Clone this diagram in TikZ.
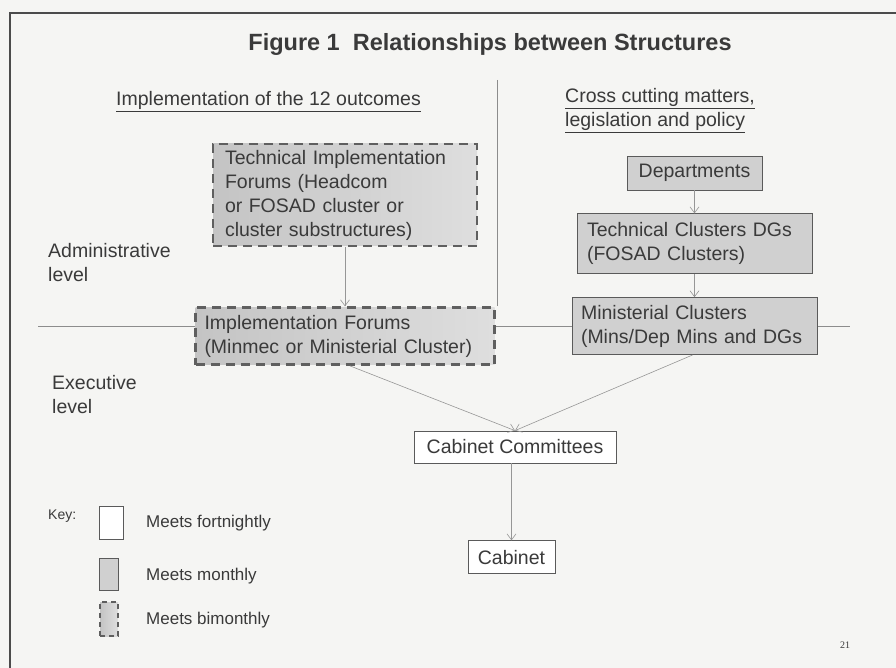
\documentclass[tikz,border=0pt]{standalone}
\usepackage{fontspec}
\setmainfont{Liberation Sans}
\newfontfamily\numfont{Liberation Serif}
\usepackage{tikz}
\usetikzlibrary{arrows.meta,positioning}
\definecolor{scanbg}{RGB}{245,245,243}
\definecolor{inkgray}{RGB}{58,58,58}
\definecolor{edgegray}{RGB}{90,90,90}
\definecolor{dashgray}{RGB}{95,95,95}
\definecolor{boxgray}{RGB}{208,208,208}
\definecolor{shadeD}{RGB}{196,196,196}
\definecolor{shadeL}{RGB}{222,222,222}
\definecolor{linkgray}{RGB}{150,150,150}
\definecolor{rulegray}{RGB}{140,140,140}
\definecolor{framegray}{RGB}{75,75,75}
\newcommand{\boxfont}{\fontsize{19.5}{24}\selectfont}
\newcommand{\keyfont}{\fontsize{17}{20}\selectfont}
\newcommand{\titlefont}{\fontsize{23.5}{27}\selectfont\bfseries}
\tikzset{
  boxbase/.style={
    rectangle, draw=edgegray, line width=0.8pt, text=inkgray,
    font=\boxfont, inner ysep=0pt
  },
  fortnightly/.style={
    boxbase, fill=white
  },
  monthly/.style={
    boxbase, fill=boxgray
  },
  bimonthly/.style={
    boxbase, left color=shadeD, right color=shadeL, draw=dashgray,
    line width=2.6pt, dash pattern=on 9pt off 6pt
  },
  link/.style={-{Straight Barb[length=6pt,width=9pt]}, line width=0.6pt, draw=linkgray},
  divider/.style={line width=0.7pt, draw=rulegray},
  frame/.style={line width=2pt, draw=framegray},
  lbl/.style={anchor=north west, align=left, inner sep=0pt, text=inkgray, font=\boxfont}
}

\begin{document}
\begin{tikzpicture}[x=1pt, y=-1pt, node distance=23pt]
  \fill[scanbg] (0,0) rectangle (896,668);
  \useasboundingbox (0,0) rectangle (896,668);

  \coordinate (fr) at (896,13);
  \coordinate (fb) at (10,668);
  \draw[frame] (fr) -| (fb);

  \coordinate (vtop) at (497,80);
  \coordinate (hl) at (38,326);
  \coordinate (hr) at (850,326);
  \draw[divider] (hl) -- (hr);

  \node[anchor=center, text=inkgray, font=\titlefont] (title) at (490,44)
    {Figure 1\ \ Relationships between Structures};

  \node[lbl] (hdl) at (116,91) {\underline{Implementation of the 12 outcomes}};
  \node[lbl] (hdr) at (565,88)
    {\underline{Cross cutting matters,}\\\underline{legislation and policy}};

  \node[lbl] (adm) at (48,243) {Administrative\\level};
  \node[lbl] (exe) at (52,375) {Executive\\level};

  \node[bimonthly, align=left, text width=240pt, inner xsep=12pt, minimum height=102pt]
    (tif) at (345,195)
    {Technical Implementation\\Forums (Headcom\\or FOSAD cluster or\\cluster substructures)};
  \node[bimonthly, align=left, text width=281pt, inner xsep=9pt, minimum height=57pt,
        below=59pt of tif]
    (impl) {Implementation Forums\\(Minmec or Ministerial Cluster)};
  \draw[divider] (vtop) -- (vtop |- impl.north);

  \node[monthly, minimum width=135pt, minimum height=34pt] (dept) at (694.5,173) {Departments};
  \node[monthly, align=left, text width=215pt, inner xsep=10pt, minimum height=60pt,
        below=of dept]
    (tcd) {Technical Clusters DGs\\(FOSAD Clusters)};
  \node[monthly, align=left, text width=227pt, inner xsep=9pt, minimum height=57pt,
        below=of tcd]
    (minc) {Ministerial Clusters\\(Mins/Dep Mins and DGs};

  \node[fortnightly, minimum width=202pt, minimum height=32pt] (cc) at (515,447)
    {Cabinet Committees};
  \node[fortnightly, minimum width=87pt, minimum height=33pt, below=77pt of cc, xshift=-3.5pt]
    (cab) {Cabinet};

  \draw[link] (tif) -- (impl);
  \draw[link] (dept) -- (tcd);
  \draw[link] (tcd) -- (minc);
  \draw[link] ([xshift=5pt]impl.south) -- (cc.north);
  \draw[link] ([xshift=-2pt]minc.south) -- (cc.north);
  \draw[link] (cc.south -| cab.north) -- (cab.north);

  \node[lbl, font=\fontsize{14}{16}\selectfont] (key) at (48,510) {Key:};
  \node[fortnightly, minimum width=24pt, minimum height=33pt, inner sep=0pt] (kf) at (111,522.5) {};
  \node[monthly, minimum width=19pt, minimum height=32pt, inner sep=0pt] (km) at (108.5,574) {};
  \node[bimonthly, line width=1.8pt, dash pattern=on 5pt off 4pt,
        minimum width=18pt, minimum height=34pt, inner sep=0pt] (kb) at (109,619) {};
  \node[lbl, font=\keyfont] (kft) at (146,515) {Meets fortnightly};
  \node[lbl, font=\keyfont] (kmt) at (146,568) {Meets monthly};
  \node[lbl, font=\keyfont] (kbt) at (146,612) {Meets bimonthly};

  \node[text=inkgray, font=\numfont\fontsize{10}{12}\selectfont] (pg) at (845,645) {21};
\end{tikzpicture}
\end{document}
